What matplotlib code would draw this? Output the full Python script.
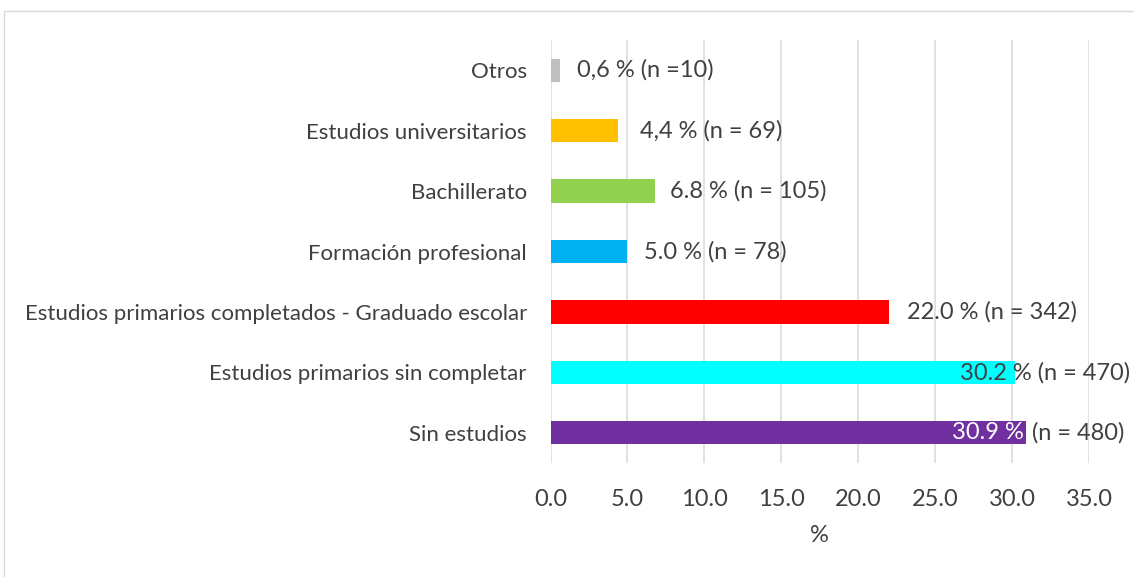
import matplotlib
matplotlib.use("Agg")
import matplotlib.pyplot as plt
from matplotlib.patches import Rectangle

# ─── Data ─────────────────────────────────────────────────────────────────────
categories = [
    "Sin estudios",
    "Estudios primarios sin completar",
    "Estudios primarios completados - Graduado escolar",
    "Formación profesional",
    "Bachillerato",
    "Estudios universitarios",
    "Otros",
]
values = [30.9, 30.2, 22.0, 5.0, 6.8, 4.4, 0.6]
pct_labels = ["30.9 %", "30.2 %", "22.0 %", "5.0 %", "6.8 %", "4,4 %", "0,6 %"]
n_labels = ["(n = 480)", "(n = 470)", "(n = 342)", "(n = 78)", "(n = 105)", "(n = 69)", "(n =10)"]
x_ticks = [0, 5, 10, 15, 20, 25, 30, 35]

# ─── Style ────────────────────────────────────────────────────────────────────
colors = ["#7030A0", "#00FFFF", "#FF0000", "#00B0F0", "#92D050", "#FFC000", "#BFBFBF"]
label_dx = [0, -55, 18, 16.5, 15, 22, 17]   # label offset from bar end, px
TEXT = "#404040"
FONT = "Lato"
FS_CAT = 16
FS = 17

plt.rcParams["font.family"] = [FONT, "DejaVu Sans"]

fig = plt.figure(figsize=(11.34, 5.77), dpi=100)
ax = fig.add_axes([550.5 / 1134, 114 / 577, 538.5 / 1134, 423 / 577])

# outer frame (partly cropped)
fig.patches.append(Rectangle((3.5 / 1134, -0.1), 1.2, (577 - 11) / 577 + 0.1,
                             transform=fig.transFigure, fill=False,
                             edgecolor="#D9D9D9", linewidth=1.0))

ypos = list(range(len(categories)))
ax.barh(ypos, values, height=0.385, color=colors, zorder=3)

ax.set_xlim(0, 35)
ax.set_ylim(-0.5, len(categories) - 0.5)
ax.set_xticks(x_ticks)
ax.set_xticklabels([f"{t:.1f}" for t in x_ticks])
ax.set_yticks(ypos)
ax.set_yticklabels(categories)
ax.tick_params(axis="both", length=0, colors=TEXT)
ax.tick_params(axis="y", pad=17, labelsize=FS_CAT)
ax.tick_params(axis="x", pad=18.5, labelsize=FS)
ax.set_xlabel("%", fontsize=FS, color=TEXT, labelpad=11)

ax.grid(axis="x", color="#D9D9D9", linewidth=1.1, zorder=0)
ax.set_axisbelow(True)
for s in ax.spines.values():
    s.set_visible(False)

for i, v in enumerate(values):
    if i == 0:
        # percentage inside bar in white, n outside
        ax.annotate(pct_labels[i], (v, i), xytext=(-2, 0), textcoords="offset pixels",
                    ha="right", va="center", fontsize=FS, color="white", zorder=4)
        ax.annotate(n_labels[i], (v, i), xytext=(6, 0), textcoords="offset pixels",
                    ha="left", va="center", fontsize=FS, color=TEXT, zorder=4)
    else:
        ax.annotate(f"{pct_labels[i]} {n_labels[i]}", (v, i), xytext=(label_dx[i], 0),
                    textcoords="offset pixels", ha="left", va="center",
                    fontsize=FS, color=TEXT, zorder=4)

fig.savefig("out.png", dpi=100)
